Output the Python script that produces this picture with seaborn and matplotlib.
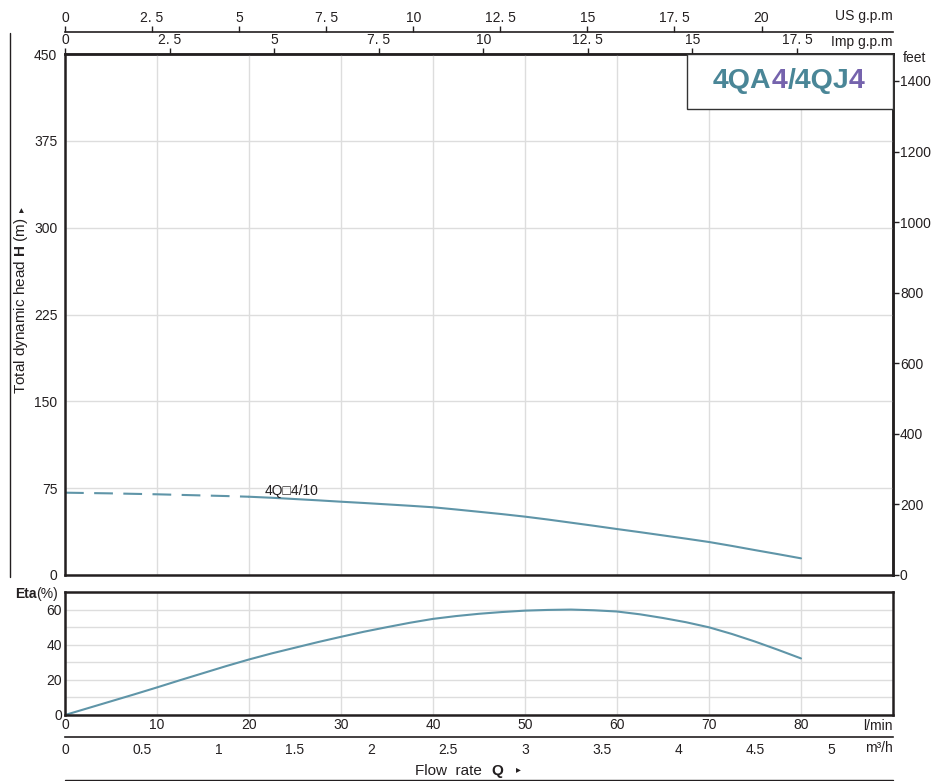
#!/usr/bin/env python3
"""Pump curve 4QA4/4QJ4: head and efficiency vs flow, with unit axes."""

import matplotlib

matplotlib.use("Agg")
import matplotlib.pyplot as plt
import matplotlib.ticker as mticker
from matplotlib.lines import Line2D
from matplotlib.patches import Rectangle
import pandas as pd
import seaborn as sns

# flow rate in l/min
Q_LMIN = [0, 2.5, 5, 7.5, 10, 12.5, 15, 17.5, 20, 22.5, 25, 27.5, 30, 32.5,
          35, 37.5, 40, 42.5, 45, 47.5, 50, 52.5, 55, 57.5, 60, 62.5, 65,
          67.5, 70, 72.5, 75, 77.5, 80]
HEAD_M = [71.1, 70.8, 70.5, 70.1, 69.7, 69.2, 68.7, 68.2, 67.6, 66.7, 65.6,
          64.5, 63.3, 62.2, 61.0, 59.8, 58.5, 56.6, 54.6, 52.6, 50.4, 47.9,
          45.2, 42.5, 39.7, 37.0, 34.2, 31.4, 28.5, 25.1, 21.5, 18.0, 14.4]
ETA_PCT = [0, 3.9, 7.8, 11.7, 15.7, 19.8, 23.8, 27.8, 31.6, 35.1, 38.3, 41.5,
           44.5, 47.4, 50.0, 52.5, 54.7, 56.3, 57.6, 58.6, 59.4, 59.8, 60.0,
           59.6, 58.9, 57.3, 55.2, 52.8, 49.9, 46.1, 41.8, 37.1, 32.2]
DASH_END = 20  # head curve is dashed up to this flow

H_TICKS = [0, 75, 150, 225, 300, 375, 450]
FEET_TICKS = [0, 200, 400, 600, 800, 1000, 1200, 1400]
ETA_TICKS = [0, 20, 40, 60]
ETA_MINOR = [10, 30, 50]
LMIN_TICKS = [0, 10, 20, 30, 40, 50, 60, 70, 80]
M3H_TICKS = [0, 0.5, 1, 1.5, 2, 2.5, 3, 3.5, 4, 4.5, 5]
US_GPM_TICKS = [0, 2.5, 5, 7.5, 10, 12.5, 15, 17.5, 20]
IMP_GPM_TICKS = [0, 2.5, 5, 7.5, 10, 12.5, 15, 17.5]

MODEL_LABEL = "4Q\u25a14/10"
TITLE_PARTS = ["4QA", "4", "/4QJ", "4"]

US_GPM = 3.78541
IMP_GPM = 4.54609
M3H = 1000 / 60
FOOT = 0.3048

W, H = 937, 781
CURVE = "#5f95a8"
TEAL = "#4a8697"
PURPLE = "#7563ad"
TITLE_COLORS = [TEAL, PURPLE, TEAL, PURPLE]
INK = "#231f20"
GRID = "#dddddd"
FS = 10


def box(left, top, right, bottom):
    return [left / W, 1 - bottom / H, (right - left) / W, (bottom - top) / H]


def fy(y):
    return 1 - y / H


def gpm_fmt(v, _):
    return f"{v:g}".replace(".", ". ")


def line_axis(fig, top, xmax, ticks, fmt, side):
    """A bare axis: just one spine with ticks and labels."""
    a = fig.add_axes(box(65, top, 893, top + 0.5))
    a.set_facecolor("none")
    a.set_xlim(0, xmax)
    if side == "top":
        a.xaxis.tick_top()
    a.set_xticks(ticks)
    a.xaxis.set_major_formatter(mticker.FuncFormatter(fmt))
    a.set_yticks([])
    a.tick_params(direction="out", length=4, width=1, labelsize=FS, pad=1)
    for name, s in a.spines.items():
        s.set_visible(name == side)
        s.set_color(INK)
        s.set_linewidth(1.2)
    return a


def main() -> None:
    sns.set_style("white")
    plt.rcParams["font.family"] = ["Liberation Sans", "DejaVu Sans"]
    plt.rcParams["mathtext.fontset"] = "custom"
    plt.rcParams["mathtext.rm"] = "Liberation Sans"
    plt.rcParams["mathtext.bf"] = "Liberation Sans:bold"
    plt.rcParams["text.color"] = INK
    plt.rcParams["xtick.color"] = INK
    plt.rcParams["ytick.color"] = INK

    df = pd.DataFrame({"q": Q_LMIN, "head": HEAD_M, "eta": ETA_PCT})

    fig = plt.figure(figsize=(W / 100, H / 100), dpi=100)

    # ---- head chart
    ax = fig.add_axes(box(65, 54, 893, 575))
    sns.lineplot(data=df[df["q"] <= DASH_END], x="q", y="head", ax=ax,
                 color=CURVE, lw=1.5, linestyle=(0, (9, 5)))
    sns.lineplot(data=df[df["q"] >= DASH_END], x="q", y="head", ax=ax,
                 color=CURVE, lw=1.5)
    ax.set_xlim(0, 90)
    ax.set_ylim(0, 450)
    ax.set_xticks(LMIN_TICKS)
    ax.set_yticks(H_TICKS)
    ax.grid(True, color=GRID, lw=1)
    ax.set_xlabel("")
    ax.set_ylabel("")
    ax.tick_params(bottom=False, labelbottom=False, left=False,
                   labelsize=FS, pad=2)
    for s in ax.spines.values():
        s.set_color(INK)
        s.set_linewidth(1.8)
    ax.text(21.7, 72.8, MODEL_LABEL, fontsize=FS, va="center", ha="left",
            family=["Liberation Sans", "DejaVu Sans"])

    sec_top = ax.secondary_xaxis(
        "top", functions=(lambda x: x / IMP_GPM, lambda x: x * IMP_GPM))
    sec_top.set_xticks(IMP_GPM_TICKS)
    sec_top.xaxis.set_major_formatter(mticker.FuncFormatter(gpm_fmt))
    sec_top.tick_params(direction="out", length=4, width=1, labelsize=FS, pad=1)
    sec_top.spines["top"].set_linewidth(1.8)

    sec_right = ax.secondary_yaxis(
        "right", functions=(lambda m: m / FOOT, lambda f: f * FOOT))
    sec_right.set_yticks(FEET_TICKS)
    sec_right.tick_params(direction="out", length=4, width=1, labelsize=FS, pad=1)
    sec_right.spines["right"].set_linewidth(1.8)

    # model name box
    x0 = (687 - 65) / 828
    y0 = (575 - 109) / 521
    ax.add_patch(Rectangle((x0, y0), 1 - x0, 1 - y0, transform=ax.transAxes,
                           facecolor="white", edgecolor="#333333", lw=1,
                           zorder=4, clip_on=False))
    prev = fig.text(713 / W, fy(88), TITLE_PARTS[0], fontsize=20.5,
                    fontweight="bold", color=TITLE_COLORS[0], va="baseline",
                    zorder=5)
    for txt, col in zip(TITLE_PARTS[1:], TITLE_COLORS[1:]):
        prev = ax.annotate(txt, xy=(1, 0), xycoords=prev, fontsize=20.5,
                           fontweight="bold", color=col, va="bottom",
                           ha="left", zorder=5, annotation_clip=False)

    # US gpm axis above
    line_axis(fig, 32, 90 / US_GPM, US_GPM_TICKS, gpm_fmt, "top")
    fig.text(893 / W, fy(16), "US g.p.m", fontsize=FS, ha="right", va="center")
    fig.text(893 / W, fy(42), "Imp g.p.m", fontsize=FS, ha="right", va="center")
    fig.text(903 / W, fy(58), "feet", fontsize=FS, ha="left", va="center")

    # y label with marker
    ylab = fig.text(21 / W, fy(306), r"Total dynamic head $\mathbf{H}$ (m)",
                    rotation=90, fontsize=11, ha="center", va="center")
    ax.annotate("\u25b8", xy=(0.5, 1), xycoords=ylab, xytext=(0, 4),
                textcoords="offset points", rotation=90, fontsize=7,
                ha="center", va="bottom", family="DejaVu Sans",
                annotation_clip=False)
    fig.add_artist(Line2D([10 / W, 10 / W], [fy(33), fy(577)], color=INK, lw=1))

    # ---- efficiency chart
    ax2 = fig.add_axes(box(65, 592, 893, 715))
    sns.lineplot(data=df, x="q", y="eta", ax=ax2, color=CURVE, lw=1.5)
    ax2.set_xlim(0, 90)
    ax2.set_ylim(0, 70)
    ax2.set_xticks(LMIN_TICKS)
    ax2.set_yticks(ETA_TICKS)
    ax2.set_yticks(ETA_MINOR, minor=True)
    ax2.grid(True, which="both", color=GRID, lw=1)
    ax2.set_xlabel("")
    ax2.set_ylabel("")
    ax2.tick_params(which="both", length=0, labelsize=FS, pad=2)
    for s in ax2.spines.values():
        s.set_color(INK)
        s.set_linewidth(1.8)

    eta = fig.text(15 / W, fy(594), "Eta", fontsize=FS, fontweight="bold",
                   ha="left", va="center")
    ax2.annotate("(%)", xy=(1, 0), xycoords=eta, fontsize=FS, ha="left",
                 va="bottom", annotation_clip=False)
    fig.text(893 / W, fy(726), "l/min", fontsize=FS, ha="right", va="center")

    # m3/h axis below
    m3 = line_axis(fig, 736, 90 / M3H, M3H_TICKS, lambda v, _: f"{v:g}", "bottom")
    m3.tick_params(length=4.5, pad=0)
    fig.text(893 / W, fy(748), "m\u00b3/h", fontsize=FS, ha="right", va="center")

    flow = fig.text(415 / W, fy(771), "Flow  rate", fontsize=11, ha="left",
                    va="center")
    q = ax2.annotate("Q", xy=(1, 0), xycoords=flow, xytext=(7, 0),
                     textcoords="offset points", fontsize=11, fontweight="bold",
                     ha="left", va="bottom", annotation_clip=False)
    ax2.annotate("\u25b8", xy=(1, 0.25), xycoords=q, xytext=(9, 0),
                 textcoords="offset points", fontsize=7, family="DejaVu Sans",
                 ha="left", va="bottom", annotation_clip=False)
    fig.add_artist(Line2D([65 / W, 893 / W], [fy(780), fy(780)], color=INK, lw=1))

    fig.savefig("out.png", dpi=100)
    plt.close(fig)


if __name__ == "__main__":
    main()
